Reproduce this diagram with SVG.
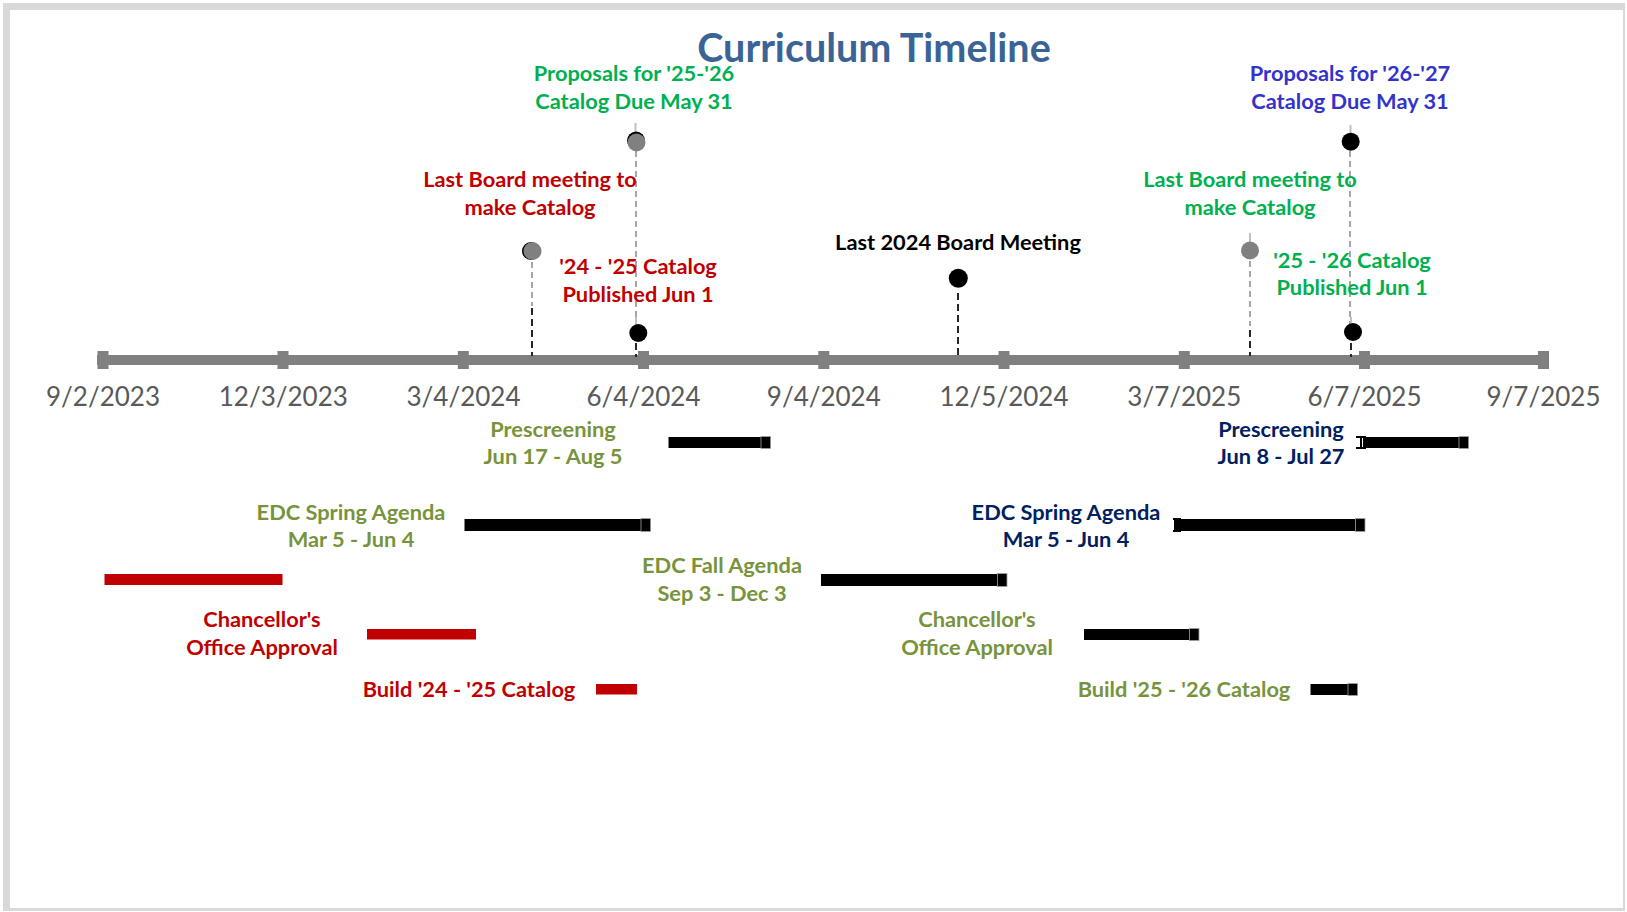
<svg xmlns="http://www.w3.org/2000/svg" width="1627" height="912" viewBox="0 0 1627 912">
<style>
.lbl{font-family:Lato,"Liberation Sans",sans-serif;font-weight:bold;font-size:21.8px;text-anchor:middle}
.date{font-family:Lato,"Liberation Sans",sans-serif;font-size:26px;fill:#595959;text-anchor:middle}
.title{font-family:Lato,"Liberation Sans",sans-serif;font-weight:bold;font-size:39.5px;fill:#3A6496;text-anchor:middle}
.red{fill:#C00000}.green{fill:#00B050}.blue{fill:#3333CC}.olive{fill:#77933C}.navy{fill:#002060}.blk{fill:#000}
.tick{fill:#808080}
.lead-g{stroke:#A6A6A6;stroke-width:2;stroke-dasharray:6 4;fill:none}
.lead-k{stroke:#262626;stroke-width:2;stroke-dasharray:7 4;fill:none}
.stub{stroke:#BFBFBF;stroke-width:2}
.cap{stroke:#000;stroke-width:2;fill:none}
.endcap{fill:#000;stroke:#A0A0A0;stroke-width:0.8}
</style>
<rect x="0" y="0" width="1627" height="912" fill="#fff"/>
<rect x="3" y="3" width="1622" height="908" fill="#D9D9D9"/>
<rect x="10" y="10" width="1613" height="898" fill="#fff"/>
<text class="title" x="874" y="62">Curriculum Timeline</text>

<g id="axis">
<rect x="97" y="355" width="1452" height="10" fill="#808080"/>
<rect class="tick" x="97.5" y="351" width="11" height="18"/>
<rect class="tick" x="277.5" y="351" width="11" height="18"/>
<rect class="tick" x="457.8" y="351" width="11" height="18"/>
<rect class="tick" x="638" y="351" width="11" height="18"/>
<rect class="tick" x="818.3" y="351" width="11" height="18"/>
<rect class="tick" x="998.5" y="351" width="11" height="18"/>
<rect class="tick" x="1178.8" y="351" width="11" height="18"/>
<rect class="tick" x="1359" y="351" width="11" height="18"/>
<rect class="tick" x="1538" y="351" width="11" height="18"/>
<text class="date" x="103" y="406">9/2/2023</text>
<text class="date" x="283.3" y="406">12/3/2023</text>
<text class="date" x="463.5" y="406">3/4/2024</text>
<text class="date" x="643.5" y="406">6/4/2024</text>
<text class="date" x="823.8" y="406">9/4/2024</text>
<text class="date" x="1004" y="406">12/5/2024</text>
<text class="date" x="1184.3" y="406">3/7/2025</text>
<text class="date" x="1364.5" y="406">6/7/2025</text>
<text class="date" x="1543.5" y="406">9/7/2025</text>
</g>

<g id="connectors">
<line class="lead-g" x1="636" y1="151" x2="636" y2="326"/>
<line class="lead-g" x1="532" y1="262" x2="532" y2="306"/>
<line class="lead-k" x1="532" y1="308" x2="532" y2="356"/>
<line class="lead-k" x1="636" y1="343" x2="636" y2="357"/>
<line class="lead-k" x1="958" y1="293" x2="958" y2="357"/>
<line class="lead-g" x1="1250" y1="261" x2="1250" y2="326"/>
<line class="lead-k" x1="1250" y1="330" x2="1250" y2="356"/>
<line class="lead-g" x1="1350" y1="151" x2="1350" y2="326"/>
<line class="lead-k" x1="1351" y1="343" x2="1351" y2="357"/>
<line class="stub" x1="635.5" y1="123" x2="635.5" y2="134"/>
<line class="stub" x1="636" y1="317" x2="636" y2="327"/>
<line class="stub" x1="1350.5" y1="125" x2="1350.5" y2="137"/>
<line class="stub" x1="1250" y1="233" x2="1250" y2="246"/>
<line class="stub" x1="1351" y1="317" x2="1351" y2="327"/>
</g>

<g id="m-proposals-2526">
<circle cx="636" cy="140.5" r="9" fill="#000"/>
<circle cx="636.5" cy="142.5" r="9" fill="#808080"/>
<text class="lbl green" x="634" y="81">Proposals for '25-'26</text>
<text class="lbl green" x="634" y="109">Catalog Due May 31</text>
</g>
<g id="m-lastboard-red">
<circle cx="531" cy="251" r="9" fill="#000"/>
<circle cx="532.5" cy="251" r="9" fill="#808080"/>
<text class="lbl red" x="530" y="187">Last Board meeting to</text>
<text class="lbl red" x="530" y="215">make Catalog</text>
</g>
<g id="m-published-2425">
<circle cx="638.3" cy="333" r="9" fill="#000"/>
<text class="lbl red" x="638" y="274">'24 - '25 Catalog</text>
<text class="lbl red" x="638" y="302">Published Jun 1</text>
</g>
<g id="m-last2024">
<circle cx="958.3" cy="278.3" r="9.5" fill="#000"/>
<text class="lbl blk" x="958" y="250">Last 2024 Board Meeting</text>
</g>
<g id="m-lastboard-green">
<circle cx="1250" cy="250.5" r="9" fill="#808080"/>
<text class="lbl green" x="1250" y="187">Last Board meeting to</text>
<text class="lbl green" x="1250" y="215">make Catalog</text>
</g>
<g id="m-proposals-2627">
<circle cx="1350.7" cy="141.7" r="9" fill="#000"/>
<text class="lbl blue" x="1350" y="81">Proposals for '26-'27</text>
<text class="lbl blue" x="1350" y="109">Catalog Due May 31</text>
</g>
<g id="m-published-2526">
<circle cx="1353" cy="332" r="9" fill="#000"/>
<text class="lbl green" x="1352" y="268">'25 - '26 Catalog</text>
<text class="lbl green" x="1352" y="295">Published Jun 1</text>
</g>

<g id="t-prescreen-24">
<rect x="668.5" y="437" width="102" height="11" fill="#000"/>
<rect class="endcap" x="761" y="436.5" width="9.5" height="12"/>
<text class="lbl olive" x="553" y="437">Prescreening</text>
<text class="lbl olive" x="553" y="464">Jun 17 - Aug 5</text>
</g>
<g id="t-edcspring-24">
<rect x="464.5" y="519" width="186" height="12" fill="#000"/>
<rect class="endcap" x="641" y="518.5" width="9.5" height="13"/>
<text class="lbl olive" x="351" y="520">EDC Spring Agenda</text>
<text class="lbl olive" x="351" y="547">Mar 5 - Jun 4</text>
</g>
<g id="t-red-fall23">
<rect x="104.5" y="574" width="178" height="11" fill="#C00000"/>
</g>
<g id="t-edcfall-24">
<rect x="821" y="574" width="186" height="12" fill="#000"/>
<rect class="endcap" x="997.5" y="573.5" width="9.5" height="13"/>
<text class="lbl olive" x="722" y="573">EDC Fall Agenda</text>
<text class="lbl olive" x="722" y="601">Sep 3 - Dec 3</text>
</g>
<g id="t-chancellor-24">
<rect x="367" y="629" width="109" height="10.5" fill="#C00000"/>
<text class="lbl red" x="262" y="627">Chancellor's</text>
<text class="lbl red" x="262" y="655">Office Approval</text>
</g>
<g id="t-build-2425">
<rect x="596" y="684" width="41" height="10.5" fill="#C00000"/>
<text class="lbl red" x="469" y="697">Build '24 - '25 Catalog</text>
</g>
<g id="t-prescreen-25">
<rect x="1363" y="437" width="105.5" height="11" fill="#000"/>
<rect class="endcap" x="1459" y="436.5" width="9.5" height="12"/>
<path class="cap" d="M1361 437V448M1356 437H1366M1356 448H1366"/>
<text class="lbl navy" x="1281" y="437">Prescreening</text>
<text class="lbl navy" x="1281" y="464">Jun 8 - Jul 27</text>
</g>
<g id="t-edcspring-25">
<rect x="1176" y="519" width="189" height="12" fill="#000"/>
<rect class="endcap" x="1355.5" y="518.5" width="9.5" height="13"/>
<path class="cap" d="M1175 519V531M1173 519H1181M1173 531H1181"/>
<text class="lbl navy" x="1066" y="520">EDC Spring Agenda</text>
<text class="lbl navy" x="1066" y="547">Mar 5 - Jun 4</text>
</g>
<g id="t-chancellor-25">
<rect x="1084" y="629" width="115" height="11" fill="#000"/>
<rect class="endcap" x="1189.5" y="628.5" width="9.5" height="12"/>
<text class="lbl olive" x="977" y="627">Chancellor's</text>
<text class="lbl olive" x="977" y="655">Office Approval</text>
</g>
<g id="t-build-2526">
<rect x="1310.5" y="684" width="47" height="11" fill="#000"/>
<rect class="endcap" x="1348" y="683.5" width="9.5" height="12"/>
<text class="lbl olive" x="1184" y="697">Build '25 - '26 Catalog</text>
</g>
</svg>
